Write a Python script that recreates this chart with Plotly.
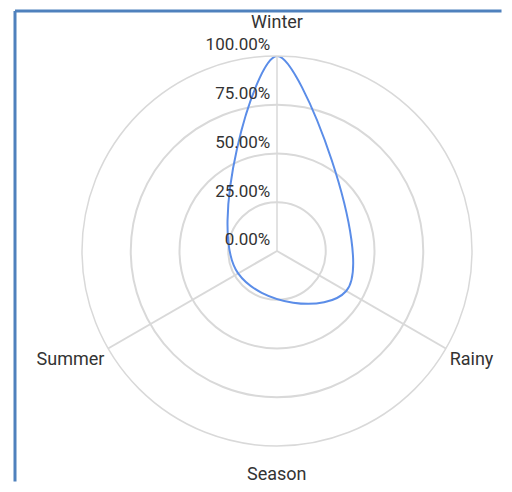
import plotly.graph_objects as go

categories = ["Winter", "Rainy", "Summer"]
values = [1.00, 0.41, 0.23]
radial_ticks = [0, 0.25, 0.5, 0.75, 1.0]
axis_title = "Season"

OFF = 8  # default page body margin
W, H = 512 - 2 * OFF, 492 - 2 * OFF
cx, cy, R = 277 - OFF, 251 - OFF, 195

GRID = "#d9d9d9"
TXT = "#333333"
BORDER = "#4F81BD"

fig = go.Figure()
fig.add_trace(go.Scatterpolar(
    r=values + values[:1],
    theta=categories + categories[:1],
    mode="lines",
    line=dict(color="#5B8DE8", width=2, shape="spline", smoothing=1.3),
    hoverinfo="skip",
    showlegend=False,
    subplot="polar",
))

domain = dict(x=[(cx - R) / W, (cx + R) / W],
              y=[(H - cy - R) / H, (H - cy + R) / H])

radial = dict(
    range=[0, 1], tickvals=radial_ticks,
    ticktext=[f"{v:.2%}<br>&nbsp;" for v in radial_ticks],
    angle=90, tickangle=90, side="counterclockwise",
    showline=True, linecolor=GRID, linewidth=1.5,
    gridcolor=GRID, gridwidth=1.5,
    ticks="", tickfont=dict(size=17, color=TXT),
)

top_y = (H - (11 - OFF)) / H
left_x = (15 - OFF) / W

fig.update_layout(
    width=W, height=H,
    margin=dict(l=0, r=0, t=0, b=0),
    paper_bgcolor="white",
    plot_bgcolor="white",
    font=dict(family="Roboto", size=18, color=TXT),
    polar=dict(
        domain=domain,
        bgcolor="white",
        angularaxis=dict(
            type="category", categoryarray=categories,
            direction="clockwise", rotation=90,
            showline=True, linecolor=GRID, linewidth=1.5,
            gridcolor=GRID, gridwidth=1.5,
            tickvals=categories[1:], ticktext=categories[1:],
            ticks="", tickfont=dict(size=18, color=TXT),
        ),
        radialaxis=radial,
    ),
    polar2=dict(
        domain=domain,
        bgcolor="rgba(0,0,0,0)",
        angularaxis=dict(
            type="category", categoryarray=categories,
            direction="clockwise", rotation=90,
            showline=False, showgrid=False,
            tickvals=categories[:1], ticktext=categories[:1],
            ticks="outside", ticklen=20, tickcolor="rgba(0,0,0,0)",
            tickfont=dict(size=18, color=TXT),
        ),
        radialaxis=dict(range=[0, 1], visible=False),
    ),
    annotations=[dict(
        text=axis_title, xref="paper", yref="paper",
        x=cx / W, y=(H - (473 - OFF)) / H, xanchor="center", yanchor="middle",
        showarrow=False, font=dict(size=18, color=TXT),
    )],
    shapes=[
        dict(type="line", xref="paper", yref="paper",
             x0=left_x, x1=0.995, y0=top_y, y1=top_y,
             line=dict(color=BORDER, width=3)),
        dict(type="line", xref="paper", yref="paper",
             x0=left_x, x1=left_x, y0=top_y, y1=0.005,
             line=dict(color=BORDER, width=3)),
    ],
)

# empty trace so polar2 is drawn
fig.add_trace(go.Scatterpolar(r=[], theta=[], subplot="polar2", showlegend=False))

fig.write_html("out.html")
